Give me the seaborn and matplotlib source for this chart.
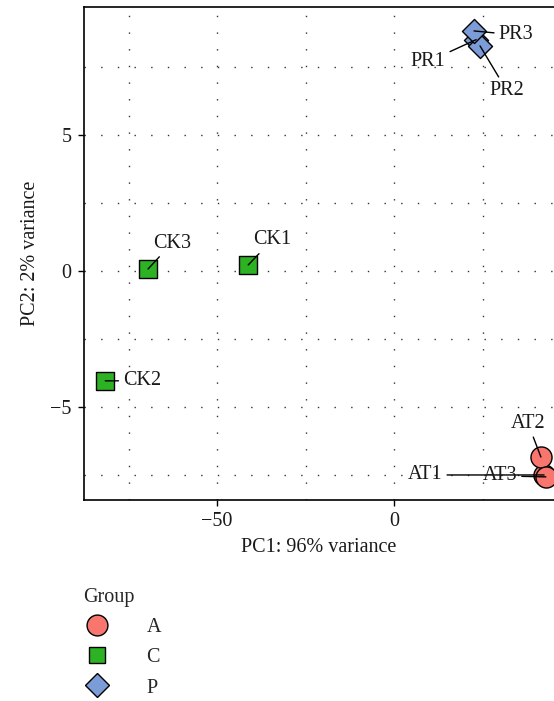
import matplotlib
matplotlib.use("Agg")
import matplotlib.pyplot as plt
import seaborn as sns
import pandas as pd
from matplotlib.ticker import MultipleLocator, FuncFormatter
from matplotlib.lines import Line2D

# ---- data ----
samples = ["AT1", "AT2", "AT3", "CK1", "CK2", "CK3", "PR1", "PR2", "PR3"]
groups  = ["A", "A", "A", "C", "C", "C", "P", "P", "P"]
pc1     = [42.4, 41.5, 42.9, -41.2, -81.6, -69.5, 23.2, 24.3, 22.6]
pc2     = [-7.50, -6.84, -7.57, 0.22, -4.04, 0.07, 8.50, 8.27, 8.82]
group_levels = ["A", "C", "P"]

df = pd.DataFrame({"sample": samples, "group": groups, "PC1": pc1, "PC2": pc2})

# ---- styles ----
palette = {"A": "#F8766D", "C": "#2DB224", "P": "#7B9CD6"}
markers = {"A": "o", "C": "s", "P": "D"}
sizes = {"A": 230, "C": 150, "P": 150}
label_offsets = {  # offset in pixels of label centre from point
    "AT1": (-119, 0), "AT2": (-13, 34), "AT3": (-46, 1),
    "CK1": (24, 25), "CK2": (37, 0), "CK3": (24, 26),
    "PR1": (-48, -22), "PR2": (27, -45), "PR3": (42, -4),
}
FS = 14.5

sns.set_theme(style="white")
plt.rcParams["font.family"] = ["Liberation Serif", "DejaVu Serif"]
plt.rcParams["axes.unicode_minus"] = True

fig = plt.figure(figsize=(5.54, 7.01), dpi=100)
ax = fig.add_axes([84 / 554, 1 - 500 / 701, 1 - 84 / 554, (500 - 7) / 701])

for g in group_levels:
    sub = df[df["group"] == g]
    sns.scatterplot(data=sub, x="PC1", y="PC2", color=palette[g], marker=markers[g],
                    s=sizes[g], edgecolor="black", linewidth=1.0, ax=ax, legend=False,
                    zorder=3)

for _, r in df.iterrows():
    dx, dy = label_offsets[r["sample"]]
    ax.annotate(r["sample"], xy=(r["PC1"], r["PC2"]), xytext=(dx, dy),
                textcoords="offset pixels", ha="center", va="center",
                fontsize=FS, color="#1a1a1a", zorder=5,
                arrowprops=dict(arrowstyle="-", color="black", lw=1.0,
                                shrinkA=1, shrinkB=0))

ax.set_xlim(-87.6, 45.2)
ax.set_ylim(-8.42, 9.7)
ax.xaxis.set_major_locator(MultipleLocator(50))
ax.xaxis.set_minor_locator(MultipleLocator(25))
ax.yaxis.set_major_locator(MultipleLocator(5))
ax.yaxis.set_minor_locator(MultipleLocator(2.5))
fmt = FuncFormatter(lambda v, p: f"{v:g}".replace("-", "\u2212"))
ax.xaxis.set_major_formatter(fmt)
ax.yaxis.set_major_formatter(fmt)

ax.grid(True, which="both", color="#333333", linestyle=(0, (1, 11)), linewidth=1.0)
ax.set_axisbelow(True)

for side in ["left", "bottom", "top"]:
    ax.spines[side].set_visible(True)
    ax.spines[side].set_color("black")
    ax.spines[side].set_linewidth(1.2)
ax.spines["right"].set_visible(False)

ax.tick_params(axis="both", which="major", direction="out", length=4, width=1,
               color="black", labelsize=FS, labelcolor="#1a1a1a", left=True, bottom=True,
               pad=5)
ax.tick_params(axis="both", which="minor", length=0)

ax.set_xlabel("PC1: 96% variance", fontsize=FS, color="#1a1a1a", labelpad=5)
ax.set_ylabel("PC2: 2% variance", fontsize=FS, color="#1a1a1a", labelpad=7)

handles = [Line2D([], [], linestyle="none", marker=markers[g],
                  markersize=(15 if g == "A" else 12 if g == "C" else 12),
                  markerfacecolor=palette[g], markeredgecolor="black",
                  markeredgewidth=1.0, label=g) for g in group_levels]
leg = fig.legend(handles=handles, title="Group", loc="upper left",
                 bbox_to_anchor=(83 / 554, 1 - 588 / 701), frameon=False,
                 fontsize=FS, title_fontsize=FS, alignment="left",
                 handlelength=1.4, handletextpad=1.75, labelspacing=0.55,
                 borderaxespad=0, borderpad=0)

fig.savefig("out.png", dpi=100)
